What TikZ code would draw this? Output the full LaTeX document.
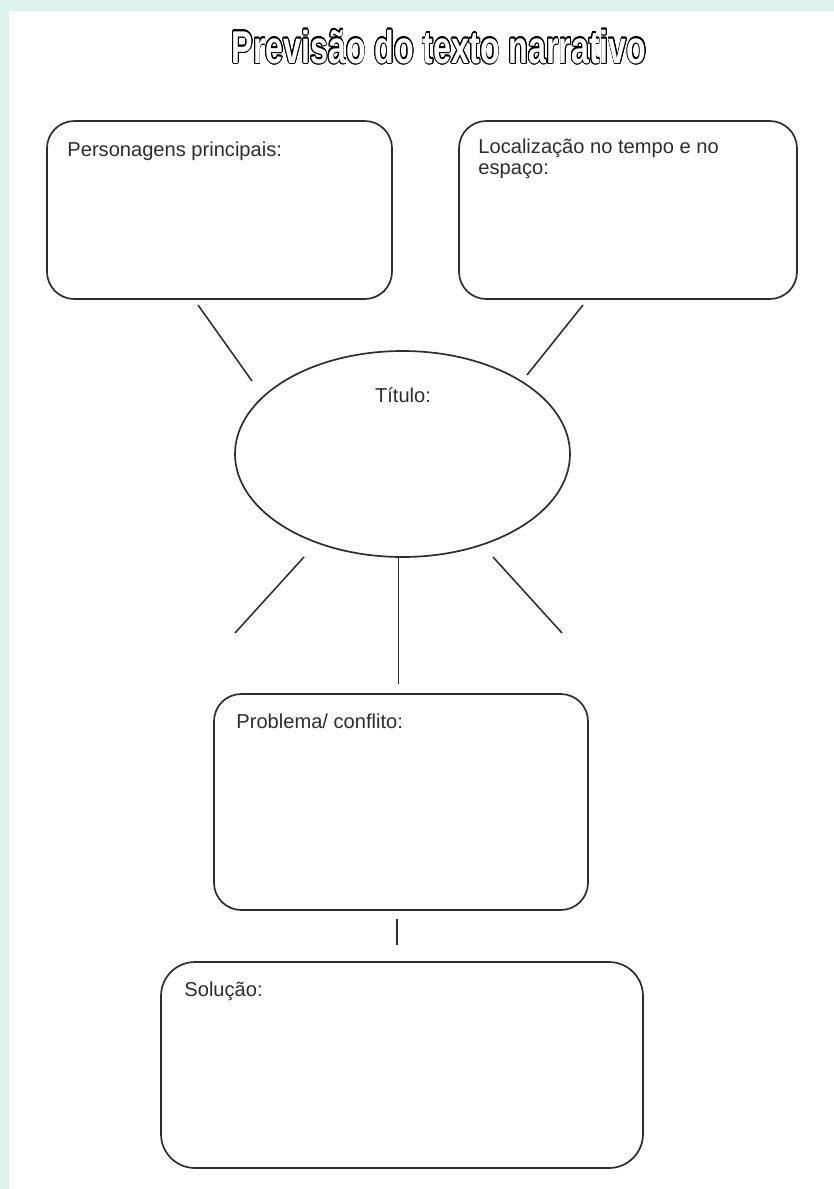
\documentclass[tikz,border=0pt]{standalone}
\usepackage{fontspec}
\setmainfont{Liberation Sans}
\usepackage{graphicx}
\usepackage{contour}
\contourlength{0.8pt}
\usetikzlibrary{positioning, shapes.geometric}

\definecolor{margem}{RGB}{221,241,237}
\definecolor{traco}{RGB}{45,45,45}

\begin{document}
\begin{tikzpicture}[
  font=\fontsize{14.3}{14.6}\selectfont,
  box/.style={rectangle, rounded corners=0.68cm, draw=traco, line width=1.2pt,
              minimum width=#1, inner sep=0pt},
  oval/.style={ellipse, draw=traco, line width=1.2pt, minimum width=8.375cm,
               minimum height=5.15cm, inner sep=0pt},
  lbl/.style={anchor=base west, inner sep=0pt, text=traco, align=left},
  spoke/.style={draw=traco, line width=1.1pt}
]
% page: tinted margin on the left and top, white sheet
\fill[margem] (0,0) rectangle (20.85,-29.725);
\fill[white] (0.225,-0.275) rectangle (20.85,-29.725);
\useasboundingbox (0,0) rectangle (20.85,-29.725);
% title, outlined letters
\node[inner sep=0pt, anchor=base] (head) at (10.975,-1.575)
  {\scalebox{0.7}[1]{\fontsize{32.7}{34}\selectfont\bfseries\contour{black}{\textcolor{white}{Previsão do texto narrativo}}}};
% the two boxes at the top and the title oval
\node[box=8.625cm, minimum height=4.45cm] (pers)  at (5.4875,-5.25) {};
\node[box=8.45cm,  minimum height=4.45cm] (local) at (15.7,-5.25) {};
\node[oval] (titulo) at (10.0625,-11.35) {};
% problem and solution boxes
\node[box=9.35cm,  minimum height=5.4cm] (probl) at (10.025,-20.05) {};
\node[box=12.05cm, minimum height=5.15cm, rounded corners=0.85cm] (solucao) at (10.05,-26.625) {};
% texts
\node[lbl] (tpers)  at ([shift={(0.525,-0.9)}]pers.north west) {Personagens principais:};
\node[lbl] (tlocal) at ([shift={(0.5,-1.35)}]local.north west) {Localização no tempo e no\\espaço:};
\node[anchor=base, inner sep=0pt, text=traco] (ttit) at (10.075,-10.05) {Título:};
\node[lbl] (tprobl) at ([shift={(0.575,-0.875)}]probl.north west) {Problema/ conflito:};
\node[lbl] (tsol)   at ([shift={(0.6,-0.875)}]solucao.north west) {Solução:};
% free spokes round the oval
\coordinate (ula) at (4.95,-7.625);   \coordinate (ulb) at (6.3,-9.525);
\coordinate (ura) at (14.575,-7.625); \coordinate (urb) at (13.175,-9.375);
\coordinate (lla) at (7.6,-13.925);   \coordinate (llb) at (5.875,-15.825);
\coordinate (lra) at (12.325,-13.925);\coordinate (lrb) at (14.05,-15.825);
\draw[spoke] (ula) -- (ulb);
\draw[spoke] (ura) -- (urb);
\draw[spoke] (lla) -- (llb);
\draw[spoke] (lra) -- (lrb);
\draw[spoke, shorten >=0.22cm] ([xshift=-0.1cm]titulo.south) -- ([xshift=-0.1cm]titulo.south |- probl.north);
\draw[spoke, shorten <=0.2cm, shorten >=0.4cm] ([xshift=-0.1cm]probl.south) -- ([xshift=-0.1cm]probl.south |- solucao.north);
\end{tikzpicture}
\end{document}
